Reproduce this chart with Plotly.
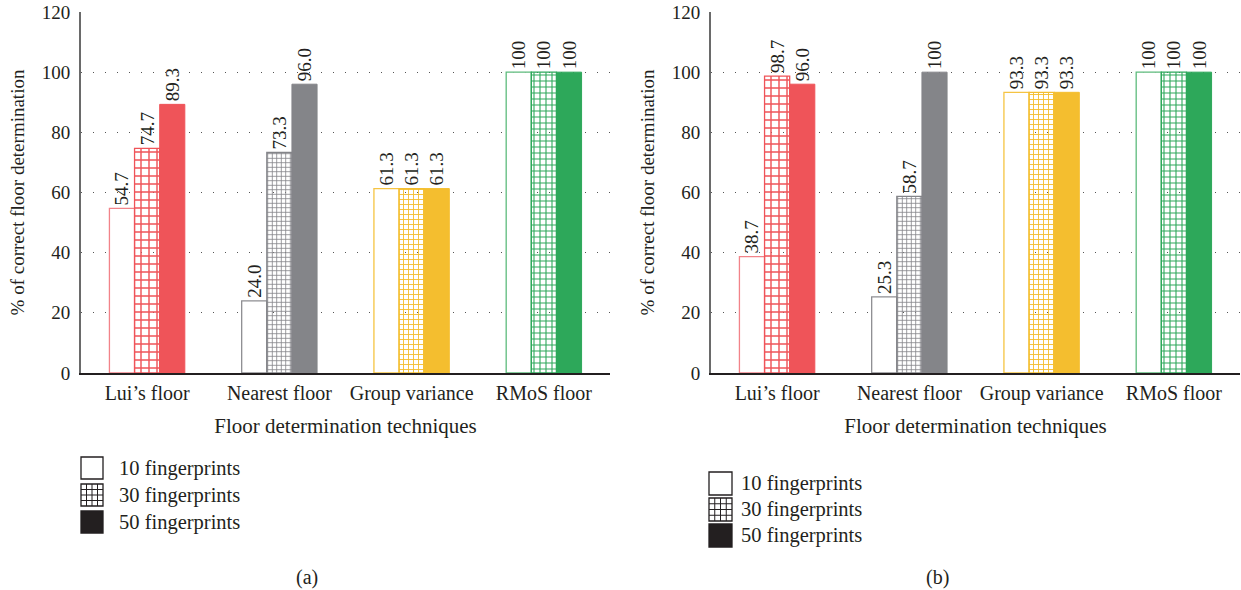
import plotly.graph_objects as go

# ---- data -------------------------------------------------------------
techniques = ["Lui’s floor", "Nearest floor", "Group variance", "RMoS floor"]
series_names = ["10 fingerprints", "30 fingerprints", "50 fingerprints"]

# panel (a)
a_fp10 = [54.7, 24.0, 61.3, 100]
a_fp30 = [74.7, 73.3, 61.3, 100]
a_fp50 = [89.3, 96.0, 61.3, 100]

# panel (b)
b_fp10 = [38.7, 25.3, 93.3, 100]
b_fp30 = [98.7, 58.7, 93.3, 100]
b_fp50 = [96.0, 100, 93.3, 100]

y_ticks = [0, 20, 40, 60, 80, 100, 120]

# ---- styling ----------------------------------------------------------
W, H = 1241, 590
FONT = "Liberation Serif"
INK = "#231F20"

solid = ["#EF5459", "#848589", "#F4BE2F", "#2DA85A"]
outline_light = ["#F28389", "#8E8E92", "#F5C443", "#5DBB7C"]
grid_size = [8, 4.5, 5, 6]


def px(x):
    return x / W


def py(y):
    return 1 - y / H


def label(v):
    return "100" if v == 100 else f"{v:.1f}"


def panel_traces(fp10, fp30, fp50, xa, ya):
    common = dict(
        x=techniques,
        xaxis=xa,
        yaxis=ya,
        textposition="outside",
        textangle=-90,
        textfont=dict(family=FONT, size=19, color=INK),
        cliponaxis=False,
        constraintext="none",
        showlegend=False,
        hoverinfo="skip",
    )
    t10 = go.Bar(
        y=fp10, text=[label(v) for v in fp10], name=series_names[0],
        marker=dict(color="white", line=dict(color=outline_light, width=1.3)),
        **common,
    )
    t30 = go.Bar(
        y=fp30, text=[label(v) for v in fp30], name=series_names[1],
        marker=dict(
            color=solid,
            line=dict(color=solid, width=1.3),
            pattern=dict(shape="+", fillmode="replace", bgcolor="white",
                         fgcolor=solid, size=grid_size, solidity=0.33),
        ),
        **common,
    )
    t50 = go.Bar(
        y=fp50, text=[label(v) for v in fp50], name=series_names[2],
        marker=dict(color=solid, line=dict(color=solid, width=1)),
        **common,
    )
    return [t10, t30, t50]


fig = go.Figure()
for tr in panel_traces(a_fp10, a_fp30, a_fp50, "x", "y"):
    fig.add_trace(tr)
for tr in panel_traces(b_fp10, b_fp30, b_fp50, "x2", "y2"):
    fig.add_trace(tr)

y_dom = [py(373), py(12)]

yaxis_style = dict(
    range=[0, 120],
    tickvals=y_ticks,
    showgrid=True,
    griddash="1.3px,10.7px",
    gridcolor="#555555",
    gridwidth=1.3,
    showline=True,
    linecolor="#6a6a6a",
    linewidth=2,
    zeroline=False,
    ticks="",
    ticklabelstandoff=5,
    tickfont=dict(family=FONT, size=19, color=INK),
    title=dict(text="% of correct floor determination",
               font=dict(family=FONT, size=19, color=INK), standoff=12),
    automargin=False,
    domain=y_dom,
    fixedrange=True,
)

xaxis_style = dict(
    type="category",
    range=[-0.5, 3.5],
    showline=True,
    linecolor=INK,
    linewidth=1.6,
    showgrid=False,
    ticks="",
    ticklabelstandoff=1,
    tickfont=dict(family=FONT, size=20, color=INK),
    title=dict(text="Floor determination techniques",
               font=dict(family=FONT, size=21, color=INK), standoff=15),
    automargin=False,
    fixedrange=True,
)

fig.update_layout(
    width=W,
    height=H,
    margin=dict(l=0, r=0, t=0, b=0, autoexpand=False),
    paper_bgcolor="white",
    plot_bgcolor="white",
    barmode="group",
    bargap=0.43,
    bargroupgap=0,
    showlegend=False,
    xaxis=dict(domain=[px(81), px(610)], anchor="y", **xaxis_style),
    yaxis=dict(anchor="x", **yaxis_style),
    xaxis2=dict(domain=[px(711), px(1240)], anchor="y2", **xaxis_style),
    yaxis2=dict(anchor="x2", **yaxis_style),
)

# ---- legends (white / grid / solid swatches) and panel captions -------
shapes = []
annotations = []


def add_legend(x0, y_tops, box, gap):
    for i, (yt, name) in enumerate(zip(y_tops, series_names)):
        x1, y1 = x0 + box, yt + box
        fill = INK if i == 2 else "white"
        shapes.append(dict(type="rect", xref="paper", yref="paper",
                           x0=px(x0), x1=px(x1), y0=py(y1), y1=py(yt),
                           fillcolor=fill, line=dict(color=INK, width=1.3)))
        if i == 1:
            n = 4
            for k in range(1, n):
                gx = x0 + box * k / n
                gy = yt + box * k / n
                shapes.append(dict(type="line", xref="paper", yref="paper",
                                   x0=px(gx), x1=px(gx), y0=py(y1), y1=py(yt),
                                   line=dict(color=INK, width=1)))
                shapes.append(dict(type="line", xref="paper", yref="paper",
                                   x0=px(x0), x1=px(x1), y0=py(gy), y1=py(gy),
                                   line=dict(color=INK, width=1)))
        annotations.append(dict(
            xref="paper", yref="paper", x=px(x1 + gap), y=py(yt + box / 2),
            xanchor="left", yanchor="middle", showarrow=False, text=name,
            font=dict(family=FONT, size=20.5, color=INK)))


add_legend(81, [457, 484, 511], 22, 14)
add_legend(709, [472, 498, 524], 23, 7)

for cap, cx in (("(a)", 307), ("(b)", 937)):
    annotations.append(dict(
        xref="paper", yref="paper", x=px(cx), y=py(577),
        xanchor="center", yanchor="middle", showarrow=False, text=cap,
        font=dict(family=FONT, size=20, color=INK)))

fig.update_layout(shapes=shapes, annotations=annotations)

fig.write_html("out.html")
